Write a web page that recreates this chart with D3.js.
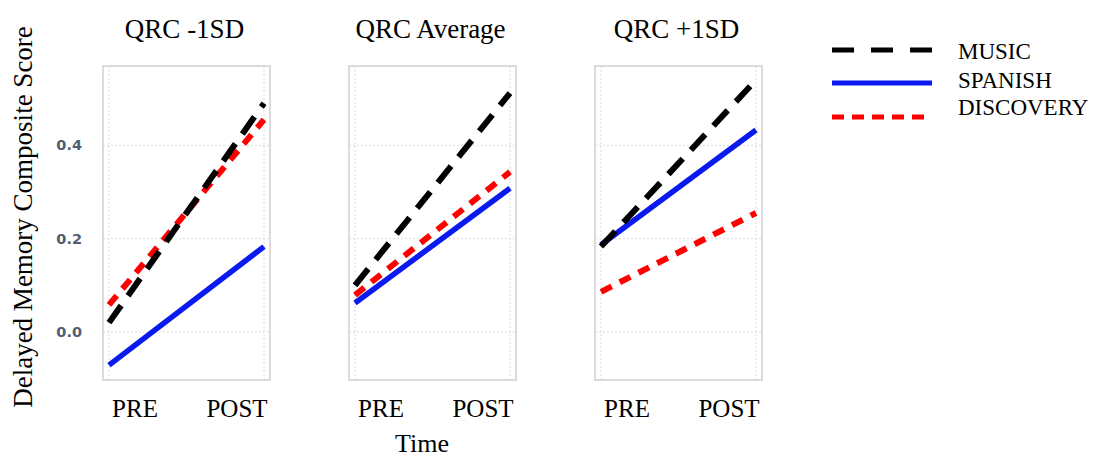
<!DOCTYPE html>
<html>
<head>
<meta charset="utf-8">
<script src="https://cdn.jsdelivr.net/npm/d3@7"></script>
<style>
  body { margin: 0; background: #fff; }
  text { font-family: "Liberation Serif", "Times New Roman", serif; }
</style>
</head>
<body>
<div id="chart"></div>
<script>
// panel titles and x categories
const panels = ["QRC -1SD", "QRC Average", "QRC +1SD"];
const times = ["PRE", "POST"];
const yTicks = [0.0, 0.2, 0.4];

// series values per panel, [PRE, POST]
const music     = [[0.02, 0.49], [0.10, 0.512], [0.183, 0.54]];
const spanish   = [[-0.071, 0.183], [0.062, 0.308], [0.187, 0.433]];
const discovery = [[0.058, 0.455], [0.079, 0.343], [0.086, 0.255]];

const seriesNames = ["MUSIC", "SPANISH", "DISCOVERY"];

const w = 1099, h = 459;
const svg = d3.select("#chart").append("svg")
    .attr("width", w).attr("height", h);

const styles = {
    MUSIC:     { color: "#000000", dash: "21,12", width: 6 },
    SPANISH:   { color: "#0a1aef", dash: null,    width: 5.5 },
    DISCOVERY: { color: "#ff0000", dash: "12,9",  width: 6 }
};
const seriesData = { MUSIC: music, SPANISH: spanish, DISCOVERY: discovery };

const panelX = [103, 349, 595];
const panelW = 167;
const plotTop = 66, plotBottom = 380;

var y = d3.scaleLinear().domain([-0.103, 0.570]).range([plotBottom, plotTop]);

panels.forEach((title, p) => {
    const g = svg.append("g").attr("transform", `translate(${panelX[p]},0)`);
    var x = d3.scalePoint().domain(times).range([6, panelW - 6]);

    // gridlines
    g.selectAll(".hgrid").data(yTicks).join("line")
        .attr("x1", 0).attr("x2", panelW)
        .attr("y1", d => y(d)).attr("y2", d => y(d))
        .attr("stroke", "#dcdcdc").attr("stroke-width", 1)
        .attr("stroke-dasharray", "2,2");
    g.selectAll(".vgrid").data(times).join("line")
        .attr("x1", d => x(d)).attr("x2", d => x(d))
        .attr("y1", plotTop).attr("y2", plotBottom)
        .attr("stroke", "#dcdcdc").attr("stroke-width", 1)
        .attr("stroke-dasharray", "2,2");

    // panel border
    g.append("rect")
        .attr("x", 0).attr("y", plotTop)
        .attr("width", panelW).attr("height", plotBottom - plotTop)
        .attr("fill", "none").attr("stroke", "#cfcfcf").attr("stroke-width", 1.5);

    // lines (draw discovery under music like the reference)
    ["SPANISH", "DISCOVERY", "MUSIC"].forEach(name => {
        const vals = seriesData[name][p];
        const st = styles[name];
        g.append("path")
            .datum(times.map((t, i) => ({ t: t, v: vals[i] })))
            .attr("fill", "none")
            .attr("stroke", st.color)
            .attr("stroke-width", st.width)
            .attr("stroke-dasharray", st.dash)
            .attr("d", d3.line().x(d => x(d.t)).y(d => y(d.v)));
    });

    // title
    g.append("text")
        .attr("x", panelW / 2 - 2).attr("y", 38)
        .attr("text-anchor", "middle")
        .style("font-size", "27px")
        .text(title);

    // x tick labels (sit inside the gridlines)
    g.append("text").attr("x", 32).attr("y", 417)
        .attr("text-anchor", "middle").style("font-size", "25px").text(times[0]);
    g.append("text").attr("x", 134).attr("y", 417)
        .attr("text-anchor", "middle").style("font-size", "25px").text(times[1]);

    // y axis only on first panel
    if (p === 0) {
        var yAxis = d3.axisLeft(y).tickValues(yTicks).tickFormat(d3.format(".1f")).tickSize(0).tickPadding(21);
        g.append("g").call(yAxis)
            .call(a => a.select(".domain").remove())
            .selectAll("text")
            .style("font-family", "'DejaVu Sans', sans-serif")
            .style("font-size", "14.5px")
            .style("font-weight", "bold")
            .attr("fill", "#525e72");
    }
});

// axis titles
svg.append("text")
    .attr("transform", `translate(32, 217) rotate(-90)`)
    .attr("text-anchor", "middle")
    .style("font-size", "27px")
    .text("Delayed Memory Composite Score");

svg.append("text")
    .attr("x", 422).attr("y", 452)
    .attr("text-anchor", "middle")
    .style("font-size", "26px")
    .text("Time");

// legend
const legY = [50, 83, 117];
const textY = [59, 88, 115];
seriesNames.forEach((name, i) => {
    const st = styles[name];
    svg.append("line")
        .attr("x1", 832).attr("x2", 932)
        .attr("y1", legY[i]).attr("y2", legY[i])
        .attr("stroke", st.color)
        .attr("stroke-width", 5)
        .attr("stroke-dasharray", name === "MUSIC" ? "22,17" : (name === "DISCOVERY" ? "12,8" : null));
    svg.append("text")
        .attr("x", 958).attr("y", textY[i])
        .style("font-size", "23px")
        .text(name);
});
</script>
</body>
</html>
